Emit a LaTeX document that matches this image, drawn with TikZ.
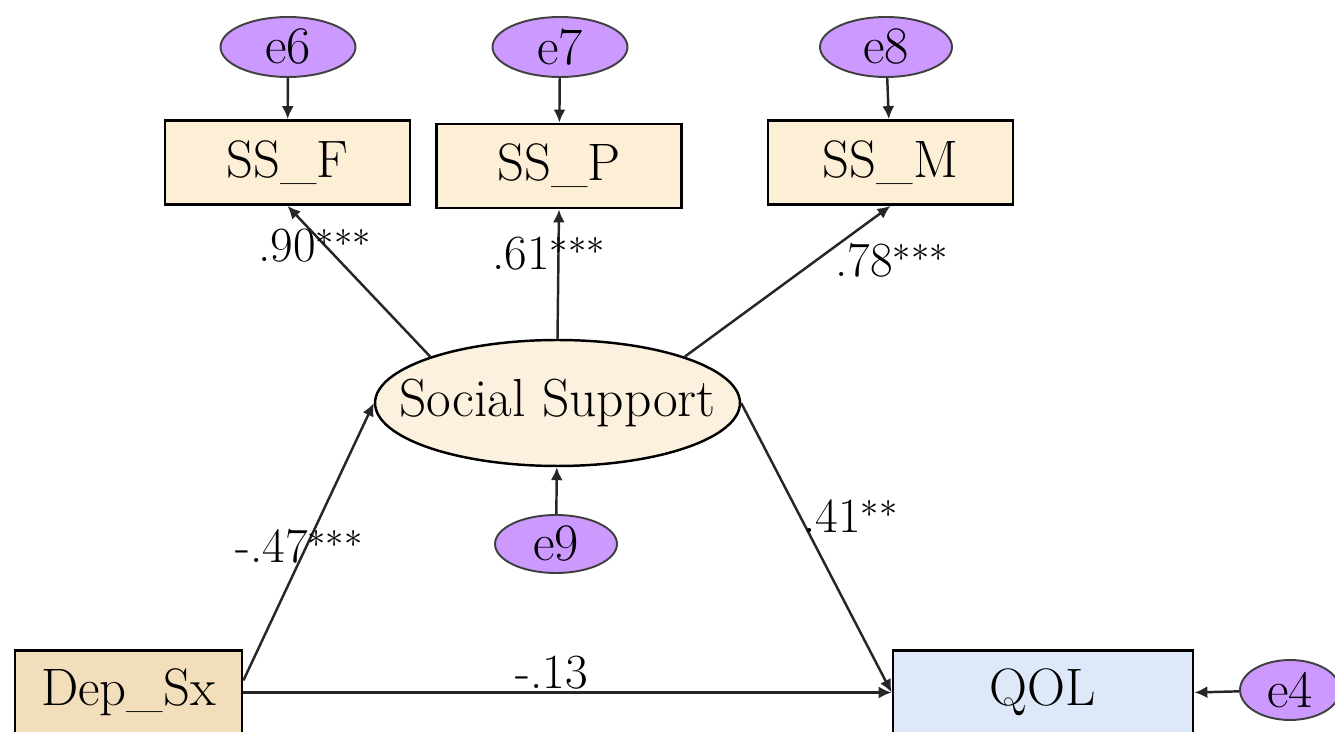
\documentclass[tikz,border=0pt]{standalone}
\usepackage{tikz}
\usetikzlibrary{%
	arrows.meta,%
	shapes.geometric%
}
\definecolor{errfill}{RGB}{204,153,255}
\definecolor{ssfill}{RGB}{253,238,214}
\definecolor{latfill}{RGB}{252,241,222}
\definecolor{depfill}{RGB}{242,222,186}
\definecolor{qolfill}{RGB}{221,233,249}

\begin{document}
\begin{tikzpicture}[x=0.02cm, y=-0.02cm,
		obs/.style={draw, line width=1.6pt, minimum width=4.9cm, minimum height=1.68cm, inner sep=0pt, font=\fontsize{30}{36}\selectfont},
		err/.style={ellipse, draw, line width=1.1pt, draw=black!75, fill=errfill, minimum width=2.7cm, minimum height=1.2cm, inner sep=0pt, font=\fontsize{30}{36}\selectfont},
		link/.style={line width=1.4pt, draw=black!85, -{Latex[length=0.26cm,width=0.24cm]}},
		coef/.style={anchor=base west, inner sep=0pt, font=\fontsize{28}{34}\selectfont}
	]
			
			\useasboundingbox (0,0) rectangle (1335,732);
			
			\node[err] (e6) at (288,47) {e6};
			\node[err] (e7) at (560,47) {e7};
			\node[err, minimum width=2.64cm] (e8) at (886,47) {e8};
			
			\node[obs, fill=ssfill] (SSF) at (287.5,162.5) {SS\_F};
			\node[obs, fill=ssfill] (SSP) at (559,166) {SS\_P};
			\node[obs, fill=ssfill] (SSM) at (890.5,162.5) {SS\_M};
			
			\node[ellipse, draw, line width=1.4pt, fill=latfill, minimum width=7.3cm, minimum height=2.52cm, inner sep=0pt, font=\fontsize{30.5}{36}\selectfont] (SS) at (557.5,403) {\makebox[0pt]{Social Support}};
			\node[err, minimum width=2.44cm, minimum height=1.16cm] (e9) at (556,544) {e9};
			
			\node[obs, fill=depfill, minimum width=4.54cm] (Dep) at (128.5,692.5) {Dep\_Sx};
			\node[obs, fill=qolfill, minimum width=6cm] (QOL) at (1043,692.5) {QOL};
			\node[err, minimum width=2cm] (e4) at (1290,690) {e4};
			
			\draw[link] (e6) -- (SSF);
			\draw[link] (e7) -- (SSP);
			\draw[link] (e8) -- (SSM);
			\draw[link] (SS.160) -- (SSF.south);
			\draw[link] (SS.north) -- (SSP.south);
			\draw[link] (SS.20) -- (SSM.south);
			\draw[link] (e9) -- (SS);
			\draw[link] (Dep.6) -- (SS.west);
			\draw[link] (SS.east) -- (QOL.west);
			\draw[link] (Dep.east) -- (QOL.west);
			\draw[link] (e4) -- (QOL.east);
			
			\node[coef] (cF) at (258,262) {.90$^{***}$};
			\node[coef] (cP) at (492,270) {.61$^{***}$};
			\node[coef] (cM) at (835,277) {.78$^{***}$};
			\node[coef] (cD) at (235,563) {-.47$^{***}$};
			\node[coef] (cQ) at (803,533) {.41$^{**}$};
			\node[coef] (cC) at (515,688) {-.13};
		\end{tikzpicture}
\end{document}
